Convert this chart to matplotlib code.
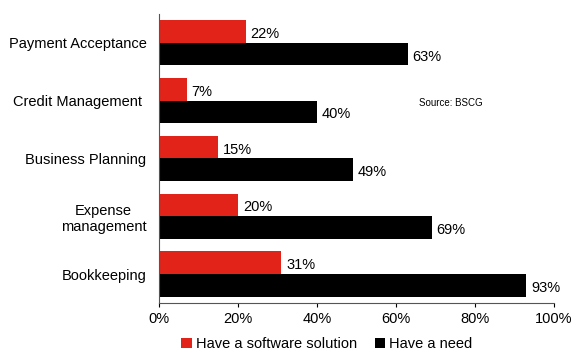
import numpy as np
import matplotlib.pyplot as plt

plt.rcParams['font.family'] = ['Liberation Sans', 'DejaVu Sans']

categories = ['Payment Acceptance', 'Credit Management ', 'Business Planning',
              'Expense\nmanagement', 'Bookkeeping']
software = [22, 7, 15, 20, 31]
need = [63, 40, 49, 69, 93]

red = '#E2231A'
fig = plt.figure(figsize=(5.73, 3.51), dpi=100)
ax = fig.add_axes([0.2775, 0.137, 0.6895, 0.823])

y = np.arange(len(categories))
h = 0.39
b1 = ax.barh(y - h / 2, software, height=h, color=red, label='Have a software solution')
b2 = ax.barh(y + h / 2, need, height=h, color='black', label='Have a need')

for bars in (b1, b2):
    for bar in bars:
        w = bar.get_width()
        ax.text(w + 1.2, bar.get_y() + bar.get_height() / 2 + 0.04, f'{w:.0f}%',
                va='center', ha='left', fontsize=10.5)

ax.set_ylim(len(categories) - 0.5, -0.5)
ax.set_xlim(0, 100)
ax.set_yticks(y)
ax.set_yticklabels(categories, fontsize=10.5, ha='right', multialignment='center')
ax.tick_params(axis='y', length=0, pad=9)
ax.set_xticks(np.arange(0, 101, 20))
ax.set_xticklabels([f'{v}%' for v in range(0, 101, 20)], fontsize=10.5)
ax.tick_params(axis='x', direction='out', length=3, width=0.8)
for s in ('top', 'right'):
    ax.spines[s].set_visible(False)
ax.spines['left'].set_color('#555555')
ax.spines['bottom'].set_color('#555555')

fig.text(419 / 573, 1 - 103 / 351, 'Source: BSCG', fontsize=7, va='center')

fig.legend(handles=[b1, b2], loc='center', bbox_to_anchor=(327 / 573, 1 - 344 / 351),
           ncol=2, frameon=False, fontsize=10.5, handlelength=0.7, handleheight=0.7,
           handletextpad=0.3, columnspacing=1.2)

fig.savefig('out.png', dpi=100)
